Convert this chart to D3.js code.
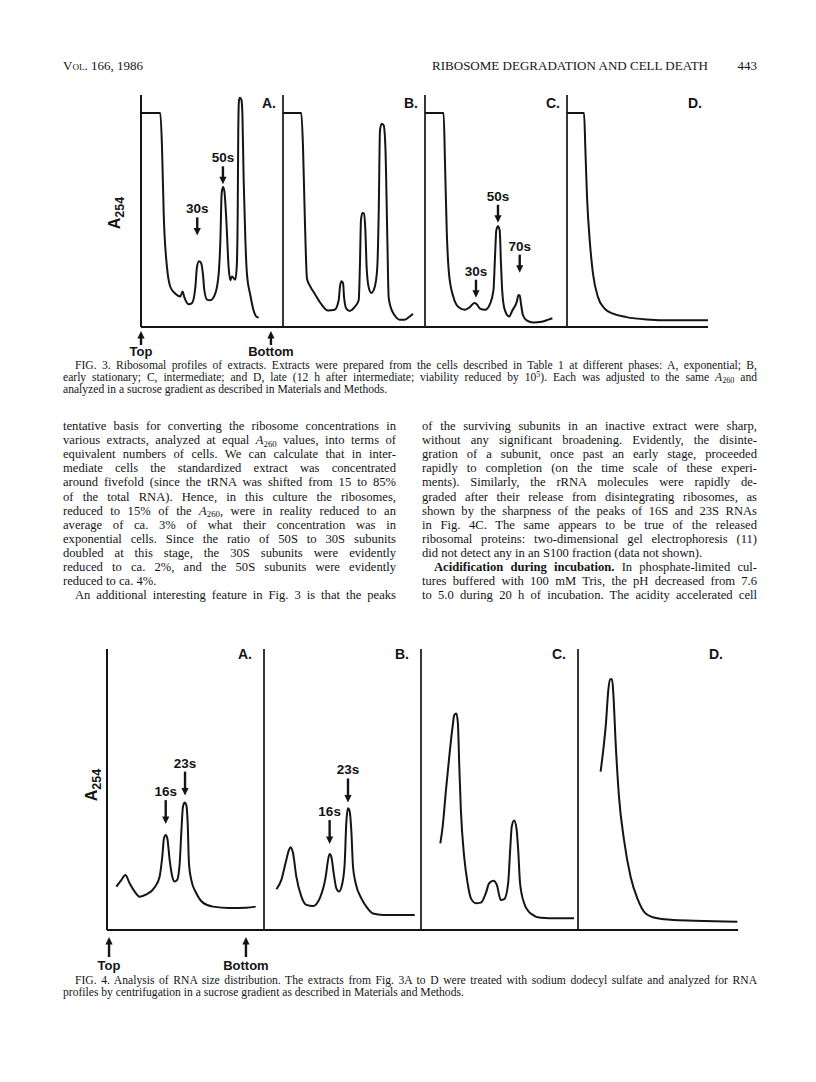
<!DOCTYPE html>
<html>
<head>
<meta charset="utf-8">
<script src="https://cdn.jsdelivr.net/npm/d3@7"></script>
<style>
  body { margin: 0; background: #fff; }
  svg { display: block; }
</style>
</head>
<body>
<div id="page"></div>
<script>
// ---------- Fig. 3: ribosomal profiles (x = position in gradient 0..100, y = A254) ----------
var fig3Labels = ["A.", "B.", "C.", "D."];

var fig3A = [[0,93],[13.6,93],[14.8,78],[16,49],[18.3,26],[20.7,17.4],[24.2,14.5],[27.7,13.3],
  [29.3,15.4],[30.5,13],[33.6,9.9],[35.9,10.4],[38.3,17.4],[39.4,26],[40.8,28.6],[42.3,27.8],
  [43.7,22.5],[44.6,16],[46.5,11.9],[48.8,11.6],[52.3,14.5],[54.7,23.2],[55.9,37.7],[56.8,58],
  [57.7,60.9],[58.7,59.1],[60.1,46.4],[61.7,26],[62.9,20.3],[64,22],[65.3,21.2],[66.4,20.6],
  [67.4,26],[68.1,49.3],[68.5,85.5],[69,98.6],[69.7,99.7],[70.7,98.8],[71.4,92.8],[72.3,63.8],
  [73.5,37.7],[74.6,23.2],[77,13.8],[79.3,7.2],[81.7,4.3],[82.9,4.1]];

var fig3B = [[0,93],[12.9,93],[14.1,78],[15.3,49],[16.9,21],[18.8,18.1],[22.3,14.5],[27,9.9],
  [31.7,7.2],[36.4,7.5],[39.2,11.6],[40.1,17.4],[41.1,19.9],[42.3,19.1],[43,13],[44.6,8],[47,7],
  [50.5,8.7],[53.3,11.6],[54.2,27.5],[54.9,46.4],[55.9,49.6],[57,49.3],[58,42],[58.9,26],
  [60.3,17.4],[62.2,14.8],[64.6,17.4],[66.4,26],[67.4,49.3],[68.3,85.5],[69.5,88.4],[70.9,87.7],
  [72.1,78.3],[73.5,37.7],[74.4,13],[75.8,8.7],[78.6,5.1],[82.2,3.2],[85.7,3.2],[89.2,4.6],[91.5,5.8]];

var fig3C = [[0,93],[13.1,93],[14.1,71],[15.3,42],[16.9,23.2],[20,13],[23.5,8.7],[28.2,7.5],
  [31.7,8.7],[34.7,10.4],[36.4,9.9],[38.7,8],[42.3,7.5],[45.8,10.1],[48.2,15.9],[49.3,30.4],
  [50.2,42],[51.4,43.8],[52.6,42],[53.5,27.5],[54.5,14.5],[56.3,7.2],[59.2,4.6],[61.5,7.2],
  [64.8,11.3],[65.7,13.8],[66.7,13.8],[67.6,10.1],[69,5.1],[71.6,2.9],[76.3,2],[82.2,2.3],
  [86.9,3.2],[89.7,3.8]];

var fig3D = [[0,93],[12,93],[12.9,78],[14.1,56.5],[16,37.7],[18.3,23.2],[21.8,13],[26.5,8],
  [32.4,5.8],[41.8,4.3],[55.9,3.3],[74.6,2.9],[99.3,2.9]];

var fig3Peaks = [
  {panel: 0, text: "30s", x: 39.6, tip: 39.4},
  {panel: 0, text: "50s", x: 57.7, tip: 61.6},
  {panel: 2, text: "30s", x: 35.9, tip: 12.3},
  {panel: 2, text: "50s", x: 51.4, tip: 44.9},
  {panel: 2, text: "70s", x: 66.7, tip: 23.2}
];
var fig3Ends = [{text: "Top", x: 0}, {text: "Bottom", x: 91.5}];

// ---------- Fig. 4: RNA size distribution ----------
var fig4Labels = ["A.", "B.", "C.", "D."];

var fig4A = [[5.9,15.2],[9.1,17.5],[11.7,19.3],[14.4,16.4],[17.6,13.5],[20.8,11.7],[25.1,12.5],
  [30.4,15],[33.5,18.7],[35.2,25.7],[36.3,32.2],[37.4,33.3],[38.4,32.2],[39.9,24.6],[41.6,18.7],
  [43.1,17],[44.6,17.5],[46.3,23.4],[47.3,33.9],[48.4,43.3],[49.5,44.7],[50.5,43.9],[51.4,37.4],
  [52.2,23.4],[53.7,17.5],[56.9,12.9],[61.1,9.6],[67.5,8.2],[78.1,7.7],[88.7,7.8],[94.7,8.2]];

var fig4B = [[7.9,14.3],[11,17.5],[14.2,24.6],[15.9,28.1],[17,29],[18.5,26.9],[20.6,18.7],
  [23.8,11.7],[27,8.8],[31.2,8.4],[35.5,11.1],[39.3,18.7],[40.8,24.6],[41.8,26.7],[42.9,25.7],
  [44.4,19.9],[46.1,14.6],[47.8,13.5],[49.9,16.4],[51.4,23.4],[52.4,37.4],[53.5,42.7],[54.6,41.5],
  [55.6,35.1],[56.7,22.2],[58.4,16.4],[62,11.1],[65.2,8.2],[69.4,5.8],[75.8,5.3],[86.4,5.3],[96,5.3]];

var fig4C = [[12.3,30.4],[13.8,36.3],[15.9,49.1],[18,60.8],[20.1,71.3],[21.2,75.4],[22.5,76],
  [23.5,72.5],[24.4,57.3],[25.4,42.1],[27.5,25.7],[29.7,16.4],[31.8,11.1],[35,9.4],[38.1,9.6],
  [41.3,12.9],[43.4,16.4],[46.2,17.3],[48.3,15.8],[50.8,10.5],[53,10.8],[55.5,16.4],[56.8,28.1],
  [57.8,36.3],[59.3,38.4],[60.8,35.7],[61.9,28.1],[63.1,16.4],[65.7,9.4],[69.9,5.8],[76.3,4.3],
  [86.9,4.1],[97.5,4.1]];

var fig4D = [[14.4,55.6],[16.1,63.2],[17.8,72.5],[19.3,84.2],[20.4,88],[21.7,88],[22.5,83],
  [24,65.5],[26.1,46.8],[29.3,31.6],[33.5,18.7],[37.8,11.1],[43.1,5.8],[50.5,4.1],[61.1,3.5],
  [80.3,3.2],[101.5,2.9]];

var fig4Peaks = [
  {panel: 0, text: "16s", x: 37.4, tip: 36.8},
  {panel: 0, text: "23s", x: 49.7, tip: 46.8},
  {panel: 1, text: "16s", x: 41.8, tip: 29.8},
  {panel: 1, text: "23s", x: 53.5, tip: 44.4}
];
var fig4Ends = [{text: "Top", x: 1.3}, {text: "Bottom", x: 88.5}];

// ---------- page text ----------
var headerLeft = "Vol. 166, 1986";
var headerTitle = "RIBOSOME DEGRADATION AND CELL DEATH";
var headerPage = "443";

var fig3Caption = [
  ">FIG. 3. Ribosomal profiles of extracts. Extracts were prepared from the cells described in Table 1 at different phases: A, exponential; B,",
  "early stationary; C, intermediate; and D, late (12 h after intermediate; viability reduced by 10^5^). Each was adjusted to the same *A*_260_ and",
  "analyzed in a sucrose gradient as described in Materials and Methods.$"
];

var leftColumn = [
  "tentative basis for converting the ribosome concentrations in",
  "various extracts, analyzed at equal *A*_260_ values, into terms of",
  "equivalent numbers of cells. We can calculate that in inter-",
  "mediate cells the standardized extract was concentrated",
  "around fivefold (since the tRNA was shifted from 15 to 85%",
  "of the total RNA). Hence, in this culture the ribosomes,",
  "reduced to 15% of the *A*_260_, were in reality reduced to an",
  "average of ca. 3% of what their concentration was in",
  "exponential cells. Since the ratio of 50S to 30S subunits",
  "doubled at this stage, the 30S subunits were evidently",
  "reduced to ca. 2%, and the 50S subunits were evidently",
  "reduced to ca. 4%.$",
  ">An additional interesting feature in Fig. 3 is that the peaks"
];

var rightColumn = [
  "of the surviving subunits in an inactive extract were sharp,",
  "without any significant broadening. Evidently, the disinte-",
  "gration of a subunit, once past an early stage, proceeded",
  "rapidly to completion (on the time scale of these experi-",
  "ments). Similarly, the rRNA molecules were rapidly de-",
  "graded after their release from disintegrating ribosomes, as",
  "shown by the sharpness of the peaks of 16S and 23S RNAs",
  "in Fig. 4C. The same appears to be true of the released",
  "ribosomal proteins: two-dimensional gel electrophoresis (11)",
  "did not detect any in an S100 fraction (data not shown).$",
  ">**Acidification during incubation.** In phosphate-limited cul-",
  "tures buffered with 100 mM Tris, the pH decreased from 7.6",
  "to 5.0 during 20 h of incubation. The acidity accelerated cell"
];

var fig4Caption = [
  ">FIG. 4. Analysis of RNA size distribution. The extracts from Fig. 3A to D were treated with sodium dodecyl sulfate and analyzed for RNA",
  "profiles by centrifugation in a sucrose gradient as described in Materials and Methods.$"
];

// ---------- drawing ----------
var W = 816, H = 1082;
var serif = "'Liberation Serif', 'DejaVu Serif', serif";
var sans = "'Liberation Sans', Arial, sans-serif";
var ink = "#141414";

var svg = d3.select("#page").append("svg")
  .attr("width", W).attr("height", H)
  .attr("viewBox", "0 0 " + W + " " + H);

// text with *italic*, **bold**, _sub_ and ^sup^ pieces
function rich(t, s, fs) {
  var shift = 0;
  s.split(/(\*\*[^*]+\*\*|\*[^*]+\*|_[^_]+_|\^[^^]+\^)/).forEach(function(p) {
    if (!p) return;
    var span = t.append("tspan"), next = 0, txt = p;
    if (p.slice(0, 2) === "**") { span.attr("font-weight", "bold"); txt = p.slice(2, -2); }
    else if (p[0] === "*") { span.attr("font-style", "italic"); txt = p.slice(1, -1); }
    else if (p[0] === "_") { span.attr("font-size", fs * 0.7); next = fs * 0.2; txt = p.slice(1, -1); }
    else if (p[0] === "^") { span.attr("font-size", fs * 0.7); next = -fs * 0.32; txt = p.slice(1, -1); }
    if (next !== shift) span.attr("dy", next - shift);
    shift = next;
    span.text(txt);
  });
}

function textBlock(lines, x0, width, y0, lh, fs, indent) {
  lines.forEach(function(raw, i) {
    var s = raw, ind = 0, just = true;
    if (s[0] === ">") { s = s.slice(1); ind = indent; }
    if (s.slice(-1) === "$") { s = s.slice(0, -1); just = false; }
    var t = svg.append("text")
      .attr("x", x0 + ind).attr("y", y0 + i * lh)
      .attr("font-family", serif).attr("font-size", fs).attr("fill", ink);
    rich(t, s, fs);
    if (just) {
      var nat = t.node().getComputedTextLength();
      var n = (s.replace(/[*_^]/g, "").match(/ /g) || []).length;
      if (n) t.attr("word-spacing", (width - ind - nat) / n);
    }
  });
}

function arrow(g, x, yTip, len, up) {
  var d = up ? -1 : 1;
  g.append("line")
    .attr("x1", x).attr("x2", x)
    .attr("y1", yTip - d * len).attr("y2", yTip - d * 6)
    .attr("stroke", ink).attr("stroke-width", 2.4);
  g.append("path")
    .attr("d", "M" + (x - 3.6) + "," + (yTip - d * 7.5) + "L" + (x + 3.6) + "," + (yTip - d * 7.5) + "L" + x + "," + yTip + "Z")
    .attr("fill", ink);
}

function drawFigure(o) {
  var g = svg.append("g");
  var y = d3.scaleLinear().domain([0, 100]).range([o.base, o.top]);
  var xs = o.series.map(function(s, i) {
    return d3.scaleLinear().domain([0, 100]).range([o.left + i * o.w, o.left + (i + 1) * o.w]);
  });
  var line = d3.line().curve(d3.curveMonotoneX);

  o.series.forEach(function(s, i) {
    var x = xs[i];
    // panel frame line on the left of every panel
    g.append("line")
      .attr("x1", x(0)).attr("x2", x(0))
      .attr("y1", y(0)).attr("y2", o.axisTop)
      .attr("stroke", ink).attr("stroke-width", i === 0 ? 2 : 1.7);
    g.append("path")
      .datum(s)
      .attr("d", line.x(function(d) { return x(d[0]); }).y(function(d) { return y(d[1]); }))
      .attr("fill", "none").attr("stroke", ink).attr("stroke-width", 2);
    g.append("text")
      .attr("x", x(100) - o.labelPad).attr("y", o.labelY)
      .attr("text-anchor", "end")
      .attr("font-family", sans).attr("font-weight", "bold").attr("font-size", 14)
      .attr("fill", ink).text(o.labels[i]);
  });

  // common baseline
  g.append("line")
    .attr("x1", xs[0](0)).attr("x2", xs[3](o.lastEnd))
    .attr("y1", y(0)).attr("y2", y(0))
    .attr("stroke", ink).attr("stroke-width", 1.8);

  // peak markers
  o.peaks.forEach(function(p) {
    var px = xs[p.panel](p.x), tip = y(p.tip) - 1;
    arrow(g, px, tip, o.arrowLen, false);
    g.append("text")
      .attr("x", px).attr("y", tip - o.arrowLen - 4)
      .attr("text-anchor", "middle")
      .attr("font-family", sans).attr("font-weight", "bold").attr("font-size", 13.5)
      .attr("fill", ink).text(p.text);
  });

  // Top / Bottom markers
  o.ends.forEach(function(e) {
    var px = xs[0](e.x);
    arrow(g, px, o.endTip, o.endLen, true);
    g.append("text")
      .attr("x", px).attr("y", o.endText)
      .attr("text-anchor", "middle")
      .attr("font-family", sans).attr("font-weight", "bold").attr("font-size", 13)
      .attr("fill", ink).text(e.text);
  });

  // y axis title A254
  var yt = g.append("text")
    .attr("transform", "translate(" + o.titleX + "," + o.titleY + ") rotate(-90)")
    .attr("text-anchor", "middle")
    .attr("font-family", sans).attr("font-weight", "bold").attr("font-size", 16)
    .attr("fill", ink);
  yt.append("tspan").text("A");
  yt.append("tspan").attr("font-size", 12.5).attr("dy", 4).text("254");
}

// header
svg.append("text").attr("x", 63).attr("y", 70)
  .attr("font-family", serif).attr("font-size", 13).attr("font-variant", "small-caps")
  .attr("fill", ink).text(headerLeft);
svg.append("text").attr("x", 432).attr("y", 70)
  .attr("font-family", serif).attr("font-size", 13).attr("fill", ink)
  .attr("textLength", 276).attr("lengthAdjust", "spacingAndGlyphs").text(headerTitle);
svg.append("text").attr("x", 757).attr("y", 70).attr("text-anchor", "end")
  .attr("font-family", serif).attr("font-size", 13).attr("fill", ink).text(headerPage);

drawFigure({
  series: [fig3A, fig3B, fig3C, fig3D], labels: fig3Labels, peaks: fig3Peaks, ends: fig3Ends,
  left: 141, w: 142, base: 327, top: 97, axisTop: 95, lastEnd: 99.3,
  labelY: 108, labelPad: 7, arrowLen: 18,
  endTip: 331, endLen: 14, endText: 356,
  titleX: 120, titleY: 213
});

textBlock(fig3Caption, 63, 694, 369, 12, 11.6, 12);
textBlock(leftColumn, 63, 333, 430, 14.1, 12.6, 12);
textBlock(rightColumn, 422, 335, 430, 14.1, 12.6, 12);

drawFigure({
  series: [fig4A, fig4B, fig4C, fig4D], labels: fig4Labels, peaks: fig4Peaks, ends: fig4Ends,
  left: 107, w: 157, base: 930, top: 645, axisTop: 649, lastEnd: 102,
  labelY: 659, labelPad: 12, arrowLen: 24,
  endTip: 937, endLen: 20, endText: 970,
  titleX: 97, titleY: 785
});

textBlock(fig4Caption, 63, 694, 984, 12.4, 11.6, 12);
</script>
</body>
</html>
